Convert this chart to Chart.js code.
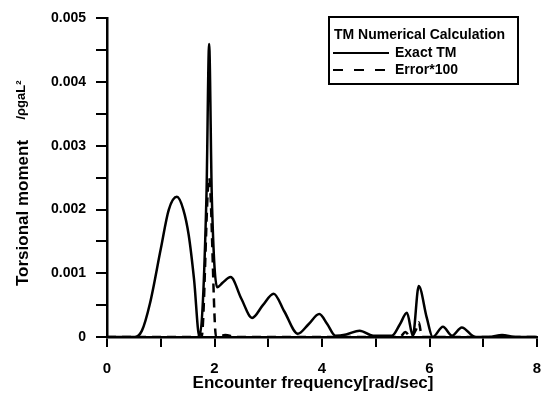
<!DOCTYPE html>
<html>
<head>
<meta charset="utf-8">
<script src="https://cdn.jsdelivr.net/npm/chart.js@4/dist/chart.umd.min.js"></script>
<style>
  html, body { margin: 0; padding: 0; background: #fff; }
  #wrap { position: relative; width: 542px; height: 398px; }
</style>
</head>
<body>
<div id="wrap"><canvas id="tmChart" width="542" height="398"></canvas></div>
<script>
// values
const exactX = [0, 0.52, 0.65, 0.8, 1.0, 1.15, 1.3, 1.42, 1.52, 1.62, 1.72, 1.85, 1.9, 1.95, 2.05, 2.15, 2.3, 2.5, 2.7, 2.9, 3.1, 3.3, 3.55, 3.75, 3.95, 4.1, 4.25, 4.45, 4.7, 4.95, 5.3, 5.45, 5.58, 5.69, 5.8, 5.95, 6.06, 6.25, 6.42, 6.6, 6.85, 7.1, 7.35, 7.6, 8];
const exactY = [0, 0, 0.0001, 0.00053, 0.00138, 0.002, 0.0022, 0.002, 0.0016, 0.0009, 0, 0.0022, 0.0046, 0.0022, 0.00078, 0.00085, 0.00094, 0.0006, 0.0003, 0.0005, 0.00068, 0.0004, 0.00005, 0.0002, 0.00036, 0.0002, 0.00002, 0.00004, 0.0001, 0.00002, 0.00002, 0.0002, 0.00038, 0.00002, 0.0008, 0.0003, 0, 0.00016, 0.00002, 0.00015, 0, 0, 0.00003, 0, 0];

const errorX = [0, 1.76, 1.9, 2.03, 2.2, 2.4, 5.45, 5.55, 5.65, 5.75, 5.8, 5.86, 6.0, 8];
const errorY = [0, 0, 0.0025, 0, 0.00003, 0, 0, 0.00008, 0, 0.00012, 0.00023, 0, 0, 0];

const xTicks = [0, 2, 4, 6, 8];
const yTicks = [0, 0.001, 0.002, 0.003, 0.004, 0.005];

const legendTitle = "TM Numerical Calculation";
const seriesNames = ["Exact TM", "Error*100"];
const xTitle = "Encounter frequency[rad/sec]";
const yTitle = "Torsional moment";
const yUnit = "/\u03c1gaL\u00b2";

const toPoints = (xs, ys) => xs.map((x, i) => ({ x: x, y: ys[i] }));

const FONT = "'Liberation Sans', Arial, sans-serif";

// boxed legend in the upper right + axis titles placed like the original
const boxLegend = {
    id: "boxLegend",
    afterDraw(chart) {
        const ctx = chart.ctx;
        const left = 329, top = 17, w = 189, h = 67;
        ctx.save();
        ctx.fillStyle = "#fff";
        ctx.fillRect(left, top, w, h);
        ctx.strokeStyle = "#000";
        ctx.lineWidth = 2;
        ctx.strokeRect(left, top, w, h);
        ctx.fillStyle = "#000";
        ctx.textBaseline = "middle";
        ctx.font = "bold 14px " + FONT;
        ctx.fillText(legendTitle, left + 5, top + 18);
        chart.data.datasets.forEach((ds, i) => {
            const y = top + 36 + i * 17;
            ctx.beginPath();
            ctx.setLineDash(ds.borderDash ? [10, 11] : []);
            ctx.lineWidth = 2;
            ctx.moveTo(left + 4, y);
            ctx.lineTo(left + 60, y);
            ctx.stroke();
            ctx.setLineDash([]);
            ctx.fillText(ds.label, left + 66, y);
        });

        // axis titles
        ctx.font = "bold 17px " + FONT;
        ctx.textAlign = "center";
        ctx.fillText(xTitle, 313, 383);
        ctx.translate(23, 213);
        ctx.rotate(-Math.PI / 2);
        ctx.fillText(yTitle, 0, 0);
        ctx.font = "bold 13px " + FONT;
        ctx.fillText(yUnit, 113, -2);
        ctx.restore();
    }
};

new Chart(document.getElementById("tmChart"), {
    type: "line",
    data: {
        datasets: [
            {
                label: seriesNames[0],
                data: toPoints(exactX, exactY),
                borderColor: "#000",
                borderWidth: 2.5,
                pointRadius: 0,
                cubicInterpolationMode: "monotone",
                fill: false
            },
            {
                label: seriesNames[1],
                data: toPoints(errorX, errorY),
                borderColor: "#000",
                borderWidth: 2.5,
                borderDash: [9, 6],
                pointRadius: 0,
                cubicInterpolationMode: "monotone",
                fill: false
            }
        ]
    },
    options: {
        responsive: false,
        animation: false,
        layout: { padding: { top: 17, right: 5, left: 0, bottom: 0 } },
        plugins: {
            legend: { display: false },
            tooltip: { enabled: false }
        },
        scales: {
            x: {
                type: "linear",
                min: 0,
                max: 8,
                afterFit: (s) => { s.height = 61; s.paddingLeft = 0; s.paddingRight = 0; },
                border: { color: "#000", width: 2.5 },
                grid: { drawOnChartArea: false, drawTicks: true, tickLength: 10, color: "#000", lineWidth: 2 },
                ticks: {
                    stepSize: 1,
                    maxRotation: 0,
                    minRotation: 0,
                    color: "#000",
                    font: { family: FONT, size: 15, weight: "bold" },
                    padding: 13,
                    callback: (v) => xTicks.includes(v) ? String(v) : ""
                }
            },
            y: {
                min: 0,
                max: 0.005,
                afterFit: (s) => { s.width = 107; },
                border: { color: "#000", width: 2.5 },
                grid: { drawOnChartArea: false, drawTicks: true, tickLength: 11, color: "#000", lineWidth: 2 },
                ticks: {
                    stepSize: 0.0005,
                    color: "#000",
                    font: { family: FONT, size: 14, weight: "bold" },
                    padding: 10,
                    callback: (v) => {
                        const hit = yTicks.find(t => Math.abs(t - v) < 1e-9);
                        if (hit === undefined) return "";
                        return hit === 0 ? "0" : hit.toFixed(3);
                    }
                }
            }
        }
    },
    plugins: [boxLegend]
});
</script>
</body>
</html>
